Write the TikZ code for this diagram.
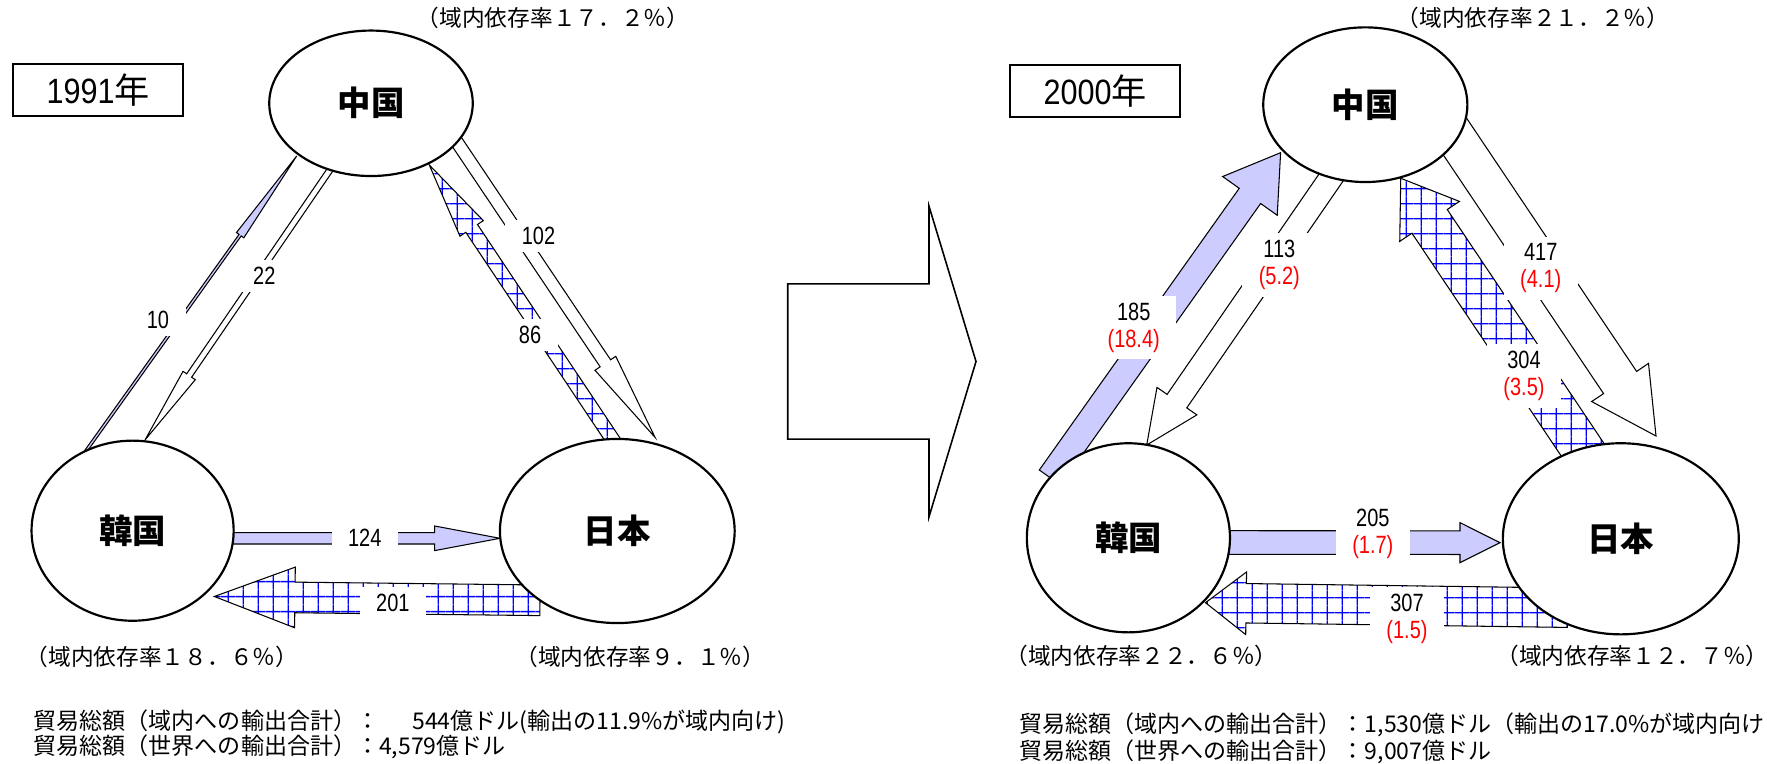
\documentclass[tikz,border=0pt]{standalone}
\usepackage{fontspec}
\setmainfont{Noto Sans CJK JP}
\newfontfamily\cjk{Noto Sans CJK JP}
\newfontfamily\numf{Liberation Sans}[FakeStretch=0.8]
\newfontfamily\yearf{Liberation Sans}[FakeStretch=0.87]
\usetikzlibrary{shapes.geometric,patterns.meta}
\definecolor{lav}{RGB}{204,204,255}
\newdimen\BAdimx
\newdimen\BAdimy
% #1 style, #2 tail coordinate, #3 tip coordinate, #4 shaft half-width, #5 head half-width, #6 head length (px)
\newcommand\blockarrow[6]{%
  \pgfextractx{\BAdimx}{\pgfpointanchor{#2}{center}}%
  \pgfextracty{\BAdimy}{\pgfpointanchor{#2}{center}}%
  \pgfmathsetmacro\BAtx{\BAdimx}%
  \pgfmathsetmacro\BAty{\BAdimy}%
  \pgfextractx{\BAdimx}{\pgfpointanchor{#3}{center}}%
  \pgfextracty{\BAdimy}{\pgfpointanchor{#3}{center}}%
  \pgfmathsetmacro\BAhx{\BAdimx}%
  \pgfmathsetmacro\BAhy{\BAdimy}%
  \pgfmathsetmacro\BAlen{veclen(\BAhx-\BAtx,\BAhy-\BAty)}%
  \pgfmathsetmacro\BAux{(\BAhx-\BAtx)/\BAlen}%
  \pgfmathsetmacro\BAuy{(\BAhy-\BAty)/\BAlen}%
  \pgfmathsetmacro\BAnx{-\BAuy}%
  \pgfmathsetmacro\BAny{\BAux}%
  \pgfmathsetmacro\BAw{#4*0.284528}%
  \pgfmathsetmacro\BAh{#5*0.284528}%
  \pgfmathsetmacro\BAL{#6*0.284528}%
  \pgfmathsetmacro\BAbx{\BAhx-\BAL*\BAux}%
  \pgfmathsetmacro\BAby{\BAhy-\BAL*\BAuy}%
  \pgfmathsetmacro\PAx{\BAtx+\BAw*\BAnx}\pgfmathsetmacro\PAy{\BAty+\BAw*\BAny}%
  \pgfmathsetmacro\PBx{\BAbx+\BAw*\BAnx}\pgfmathsetmacro\PBy{\BAby+\BAw*\BAny}%
  \pgfmathsetmacro\PCx{\BAbx+\BAh*\BAnx}\pgfmathsetmacro\PCy{\BAby+\BAh*\BAny}%
  \pgfmathsetmacro\PDx{\BAbx-\BAh*\BAnx}\pgfmathsetmacro\PDy{\BAby-\BAh*\BAny}%
  \pgfmathsetmacro\PEx{\BAbx-\BAw*\BAnx}\pgfmathsetmacro\PEy{\BAby-\BAw*\BAny}%
  \pgfmathsetmacro\PFx{\BAtx-\BAw*\BAnx}\pgfmathsetmacro\PFy{\BAty-\BAw*\BAny}%
  \draw[#1] (\PAx pt,\PAy pt) -- (\PBx pt,\PBy pt) -- (\PCx pt,\PCy pt)
     -- (\BAhx pt,\BAhy pt) -- (\PDx pt,\PDy pt) -- (\PEx pt,\PEy pt)
     -- (\PFx pt,\PFy pt) -- cycle;
}
\tikzset{
  country/.style={ellipse, draw, line width=0.62pt, fill=white, inner sep=0pt,
    font=\cjk\bfseries\fontsize{9.5pt}{11pt}\selectfont},
  lavarr/.style={draw, line width=0.3pt, fill=lav},
  whitearr/.style={draw, line width=0.3pt, fill=white},
  gridarr/.style={preaction={fill=white},
    preaction={pattern={Hatch[angle=0,distance=4.35pt,line width=0.38pt]}, pattern color=blue},
    draw, line width=0.3pt},
  bigarr/.style={draw, line width=0.45pt, fill=white},
  numlbl/.style={fill=white, inner xsep=0.165cm, inner ysep=0.07cm, align=center,
    font=\numf\fontsize{7.1pt}{7.7pt}\selectfont},
  dep/.style={inner sep=0pt, font=\cjk\fontsize{6.45pt}{7.5pt}\selectfont},
  yearbox/.style={draw, line width=0.55pt, minimum width=1.7cm, minimum height=0.52cm,
    inner sep=0pt, font=\yearf\fontsize{10pt}{12pt}\selectfont},
  note/.style={anchor=west, inner sep=0pt, font=\cjk\fontsize{6.55pt}{7.5pt}\selectfont},
}
\begin{document}
\begin{tikzpicture}[x=0.01cm, y=-0.01cm]
\useasboundingbox (0,0) rectangle (1767,764);

% ---------- arrow end points ----------
\coordinate (a10t) at (83.4,454.5);   \coordinate (a10h) at (296.7,156);
\coordinate (a22t) at (334,164);      \coordinate (a22h) at (145,440);
\coordinate (a102t) at (452,134.7);   \coordinate (a102h) at (655,437.3);
\coordinate (a86t) at (617.3,446.6);  \coordinate (a86h) at (429.3,165);
\coordinate (a124t) at (225,538.3);   \coordinate (a124h) at (500,538.3);
\coordinate (a201t) at (540,600.3);   \coordinate (a201h) at (214.3,596.5);
\coordinate (b185t) at (1050,477.6);  \coordinate (b185h) at (1280.6,152.7);
\coordinate (b113t) at (1339,166);    \coordinate (b113h) at (1146.7,445);
\coordinate (b417t) at (1441.4,116.4);\coordinate (b417h) at (1656,436);
\coordinate (b304t) at (1587.8,457.5);\coordinate (b304h) at (1400.7,178.3);
\coordinate (b205t) at (1220,542.5);  \coordinate (b205h) at (1500,542.7);
\coordinate (b307t) at (1567.5,607.7);\coordinate (b307h) at (1205.5,602.7);
\coordinate (midt) at (787.7,361.5);  \coordinate (midh) at (976,361.5);

% ---------- arrows (under the ellipses) ----------
\blockarrow{lavarr}{a10t}{a10h}{1.3}{4.5}{97}
\blockarrow{whitearr}{a22t}{a22h}{3}{7.4}{78}
\blockarrow{whitearr}{a102t}{a102h}{6.3}{12.5}{89}
\blockarrow{gridarr}{a86t}{a86h}{7}{14}{76}
\blockarrow{lavarr}{a124t}{a124h}{5.7}{12.3}{65.3}
\blockarrow{gridarr}{a201t}{a201h}{15.3}{30.3}{80.6}
\blockarrow{lavarr}{b185t}{b185h}{13.1}{33.4}{52.9}
\blockarrow{whitearr}{b113t}{b113h}{11.9}{24.2}{53.2}
\blockarrow{whitearr}{b417t}{b417h}{19.9}{34.2}{64.4}
\blockarrow{gridarr}{b304t}{b304h}{21.2}{35.8}{51.7}
\blockarrow{lavarr}{b205t}{b205h}{11.8}{20}{40}
\blockarrow{gridarr}{b307t}{b307h}{19.7}{31.3}{40.6}
\blockarrow{bigarr}{midt}{midh}{77.5}{155.3}{47}

% ---------- countries ----------
\node[country, minimum width=2.034cm, minimum height=1.454cm] (cnL) at (371,103.3) {中国};
\node[country, minimum width=2.02cm, minimum height=1.8cm] (krL) at (132.6,530.7) {韓国};
\node[country, minimum width=2.346cm, minimum height=1.84cm] (jpL) at (617.3,531) {日本};
\node[country, minimum width=2.04cm, minimum height=1.546cm] (cnR) at (1365.3,104.7) {中国};
\node[country, minimum width=2.03cm, minimum height=1.89cm] (krR) at (1128.4,537.8) {韓国};
\node[country, minimum width=2.358cm, minimum height=1.91cm] (jpR) at (1620.8,538.8) {日本};

% ---------- labels ----------
\node[numlbl] (l10) at (158,320) {10};
\node[numlbl] (l22) at (264.3,276) {22};
\node[numlbl] (l102) at (538.5,236.3) {102};
\node[numlbl] (l86) at (530,335) {86};
\node[numlbl] (l124) at (364.8,538) {124};
\node[numlbl] (l201) at (392.9,602.5) {201};
\node[numlbl] (l185) at (1133.7,327.5) {185\\\textcolor{red}{(18.4)}};
\node[numlbl] (l113) at (1279.3,264.7) {113\\\textcolor{red}{(5.2)}};
\node[numlbl] (l417) at (1540.7,268.3) {417\\\textcolor{red}{(4.1)}};
\node[numlbl] (l304) at (1524,376.2) {304\\\textcolor{red}{(3.5)}};
\node[numlbl] (l205) at (1372.8,534.2) {205\\\textcolor{red}{(1.7)}};
\node[numlbl] (l307) at (1407,619.2) {307\\\textcolor{red}{(1.5)}};

% ---------- texts ----------
\node[yearbox] (yr1) at (98.3,90) {1991\cjk 年};
\node[yearbox] (yr2) at (1095.3,91.3) {2000\cjk 年};

\node[dep] (depcnL) at (553,18) {（域内依存率１７．２％）};
\node[dep] (depkrL) at (162,656.7) {（域内依存率１８．６％）};
\node[dep] (depjpL) at (640.3,656.7) {（域内依存率９．１％）};
\node[dep] (depcnR) at (1533,18) {（域内依存率２１．２％）};
\node[dep] (depkrR) at (1141.4,656) {（域内依存率２２．６％）};
\node[dep] (depjpR) at (1632.4,656) {（域内依存率１２．７％）};

\node[note] (sumL1) at (33,721.7) {貿易総額（域内への輸出合計）：\hspace{0.33cm}544億ドル(輸出の11.9\%が域内向け)};
\node[note] (sumL2) at (33,746.7) {貿易総額（世界への輸出合計）：4,579億ドル};
\node[note] (sumR1) at (1018.6,725) {貿易総額（域内への輸出合計）：1,530億ドル（輸出の17.0\%が域内向け};
\node[note] (sumR2) at (1018.6,751.7) {貿易総額（世界への輸出合計）：9,007億ドル};
\end{tikzpicture}
\end{document}
